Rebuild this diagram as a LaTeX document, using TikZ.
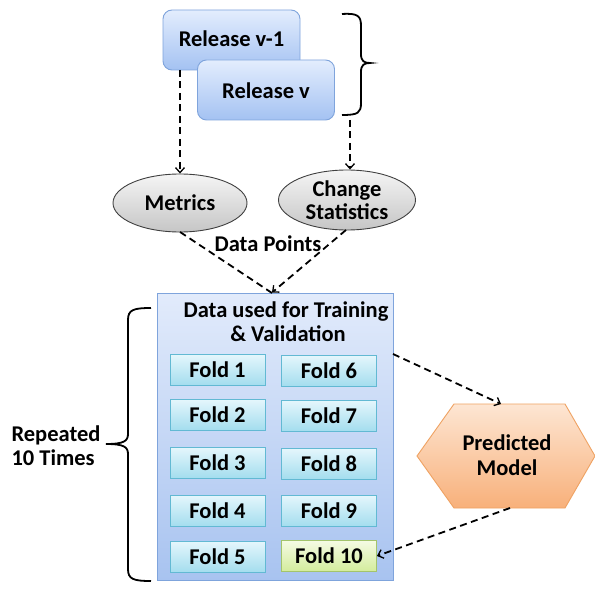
\documentclass[tikz,border=0pt]{standalone}
\usepackage{fontspec}
\setmainfont{Carlito}
\usetikzlibrary{arrows.meta,shapes.geometric}
\definecolor{relTop}{HTML}{E3EDFD}
\definecolor{relBot}{HTML}{A4C2F2}
\definecolor{relBorder}{HTML}{7FA4DC}
\definecolor{bigTop}{HTML}{E2EBFB}
\definecolor{bigBot}{HTML}{A8C3F0}
\definecolor{foldTop}{HTML}{E4F6FC}
\definecolor{foldBot}{HTML}{A3DDEE}
\definecolor{foldBorder}{HTML}{62B9D3}
\definecolor{greenTop}{HTML}{F5FBE4}
\definecolor{greenBot}{HTML}{D3EC9C}
\definecolor{greenBorder}{HTML}{A3C46C}
\definecolor{hexTop}{HTML}{FDE6D3}
\definecolor{hexBot}{HTML}{F8B07A}
\definecolor{hexBorder}{HTML}{EFA262}
\tikzset{
  x=1pt, y=-1pt,
  font=\fontsize{22.5}{24}\selectfont\bfseries,
  relbox/.style={draw=relBorder, line width=0.9pt, rounded corners=9pt, top color=relTop, bottom color=relBot, minimum width=137pt, minimum height=60pt, inner sep=0pt},
  foldbox/.style={draw=foldBorder, line width=0.9pt, top color=foldTop, bottom color=foldBot, minimum width=95pt, minimum height=31pt, inner sep=0pt},
  greenbox/.style={draw=greenBorder, line width=0.9pt, top color=greenTop, bottom color=greenBot, minimum width=95pt, minimum height=31pt, inner sep=0pt},
  ell/.style={ellipse, draw=black!75, line width=0.9pt, top color=gray!8, bottom color=gray!45, inner sep=0pt},
  dasharrow/.style={draw=black, line width=1.8pt, dash pattern=on 7pt off 4.5pt, -{Straight Barb[length=5pt,width=9pt,line width=1.3pt]}},
  dashline/.style={draw=black, line width=1.8pt, dash pattern=on 7pt off 4.5pt},
  bracestyle/.style={draw=black, line width=1.8pt},
  plain/.style={align=center, inner sep=0pt}
}
\begin{document}
\begin{tikzpicture}
\useasboundingbox (0,0) rectangle (595,591);
\fill[white] (0,0) rectangle (595,591);

% Releases
\node[relbox] (r1) at (231.5,40) {};
\node[plain] at (231.5,39) {Release v-1};
\node[relbox] (r2) at (266,90) {};
\node[plain] (r2t) at (266,91) {Release v};

% top brace
\draw[bracestyle] (342,14) .. controls (358,13) and (361,16) .. (361,26) -- (361,54) .. controls (361,61) and (364,63) .. (370,63) .. controls (364,63) and (361,65) .. (361,72) -- (361,103) .. controls (361,113) and (358,115) .. (342,115);

% ellipses
\node[ell, minimum width=134pt, minimum height=58pt] (met) at (180,203) {};
\node[plain] at (180,203) {Metrics};
\node[ell, minimum width=137pt, minimum height=60pt] (chg) at (347,200) {};
\node[plain] at (347,200) {Change\\[-1pt]Statistics};

\coordinate (r1b) at (180,70);
\draw[dasharrow] (r1b) -- (met.north);
\coordinate (r2b) at (350,120);
\draw[dasharrow] (r2b) -- (chg.north -| r2b);

% Data points
\node[plain] (dp) at (268,244) {Data Points};

% big box
\node[draw=relBorder, line width=0.9pt, top color=bigTop, bottom color=bigBot, minimum width=236pt, minimum height=287pt, inner sep=0pt] (big) at (275,436.5) {};
\node[plain] (title) at (286,322) {Data used for Training\\[0pt]\hspace*{4pt}\& Validation};

\coordinate (mid) at (272,293);
\coordinate (metb) at (180,232);
\coordinate (chgb) at (346,230);
\draw[dashline] (metb) -- (mid);
\draw[dasharrow] (chgb) -- (big.north -| mid);

% folds
\node[foldbox] (f1) at (217.5,370) {Fold 1};
\node[foldbox] (f2) at (217.5,415) {Fold 2};
\node[foldbox] (f3) at (217.5,463) {Fold 3};
\node[foldbox] (f4) at (217.5,511) {Fold 4};
\node[foldbox] (f5) at (217.5,557) {Fold 5};
\node[foldbox] (f6) at (329,371) {Fold 6};
\node[foldbox] (f7) at (329,416) {Fold 7};
\node[foldbox] (f8) at (329,464) {Fold 8};
\node[foldbox] (f9) at (329,511) {Fold 9};
\node[greenbox] (f10) at (329,556) {Fold 10};

% hexagon
\path[draw=hexBorder, line width=0.9pt, top color=hexTop, bottom color=hexBot] (417,456) -- (454,404) -- (565,404) -- (595,456) -- (565,508) -- (454,508) -- cycle;
\node[plain] (hex) at (507,455) {Predicted\\[1pt]Model};
\coordinate (hextop) at (501,404);
\coordinate (hexbot) at (510,508);
\coordinate (bigr) at (393,354);

\draw[dasharrow] (bigr) -- (hextop);
\draw[dasharrow] (hexbot) -- (f10.east);

% left brace
\draw[bracestyle] (151,308) .. controls (133,308) and (128,310) .. (128,320) -- (128,434) .. controls (128,441) and (124,444) .. (106,444) .. controls (124,444) and (128,447) .. (128,454) -- (128,569) .. controls (128,579) and (133,581) .. (151,581);
\node[plain, align=left] (rep) at (56,446) {Repeated\\[0pt]10 Times};
\end{tikzpicture}
\end{document}
